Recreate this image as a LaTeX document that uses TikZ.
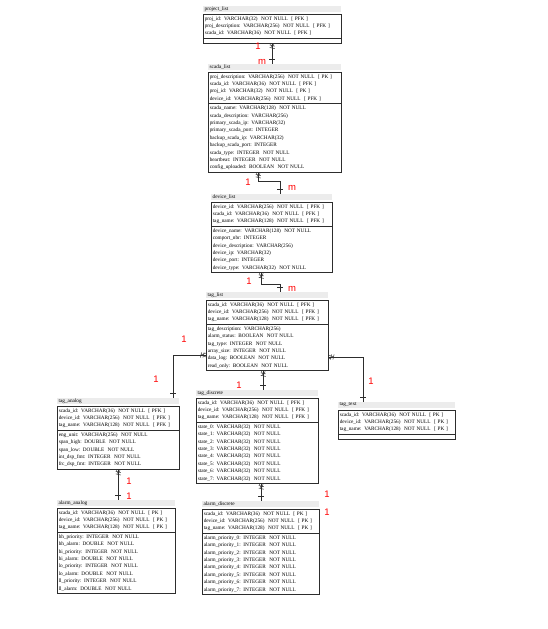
\documentclass[tikz,border=0pt]{standalone}
\usepackage{fontspec}
\setmainfont{Liberation Serif}
\newfontfamily\cardfont{Liberation Sans}
\usepackage{tikz}
\usetikzlibrary{shapes.multipart, positioning, decorations.markings}
\definecolor{mydark}{RGB}{45,45,45}
\definecolor{myred}{RGB}{255,0,0}
\definecolor{hdrgray}{RGB}{236,236,236}
\tikzset{
  entity/.style={rectangle split, rectangle split parts=2, draw=mydark,
    line width=0.5pt, inner xsep=1.5pt, inner ysep=2pt, align=left,
    anchor=north west, font=\fontsize{5.25}{7.4}\selectfont},
  entitytitle/.style={rectangle, fill=hdrgray, inner xsep=1.5pt,
    inner ysep=0.5pt, minimum height=6.5pt, align=left,
    font=\fontsize{5.25}{6}\selectfont},
  card/.style={text=myred, inner sep=0pt,
    font=\cardfont\fontsize{9.5}{9.5}\selectfont},
  rel/.style={draw=mydark, line width=0.6pt, postaction={decorate},
    decoration={markings,
      mark=at position 2.5pt with {\draw[line width=0.5pt] (-0.6pt,-2.5pt) -- (0.6pt,2.5pt);},
      mark=at position 5pt with {\draw[line width=0.5pt] (-0.6pt,-2.5pt) -- (0.6pt,2.5pt);
        \draw[line width=0.4pt] (0,0) -- (-5pt,2pt) (0,0) -- (-5pt,-2pt);},
      mark=at position -4pt with {\draw[line width=0.5pt] (0,-3pt) -- (0,3pt);}}}
}
\begin{document}
\begin{tikzpicture}[x=1pt, y=-1pt]
  \useasboundingbox (0,0) rectangle (547,629);
  % tables
  \node[entity, text width=135pt] (project) at (203,14)
    {proj\_id: VARCHAR(32)~~NOT NULL~~[~PFK~]\\
     proj\_description: VARCHAR(256)~~NOT NULL~~[~PFK~]\\
     scada\_id: VARCHAR(36)~~NOT NULL~~[~PFK~]
     \nodepart{two}};
  \node[entitytitle, text width=135pt, above right=1.5pt and 0pt of project.north west] (project_t) {project\_list};

  \node[entity, text width=130pt] (scada) at (208,72)
    {proj\_description: VARCHAR(256)~~NOT NULL~~[~PK~]\\
     scada\_id: VARCHAR(36)~~NOT NULL~~[~PFK~]\\
     proj\_id: VARCHAR(32)~~NOT NULL~~[~PK~]\\
     device\_id: VARCHAR(256)~~NOT NULL~~[~PFK~]
     \nodepart{two}
     scada\_name: VARCHAR(128)~~NOT NULL\\
     scada\_description: VARCHAR(256)\\
     primary\_scada\_ip: VARCHAR(32)\\
     primary\_scada\_port: INTEGER\\
     backup\_scada\_ip: VARCHAR(32)\\
     backup\_scada\_port: INTEGER\\
     scada\_type: INTEGER~~NOT NULL\\
     heartbeat: INTEGER~~NOT NULL\\
     config\_uploaded: BOOLEAN~~NOT NULL};
  \node[entitytitle, text width=130pt, above right=1.5pt and 0pt of scada.north west] (scada_t) {scada\_list};

  \node[entity, text width=118pt] (device) at (211,202)
    {device\_id: VARCHAR(256)~~NOT NULL~~[~PFK~]\\
     scada\_id: VARCHAR(36)~~NOT NULL~~[~PFK~]\\
     tag\_name: VARCHAR(128)~~NOT NULL~~[~PFK~]
     \nodepart{two}
     device\_name: VARCHAR(128)~~NOT NULL\\
     comport\_nbr: INTEGER\\
     device\_description: VARCHAR(256)\\
     device\_ip: VARCHAR(32)\\
     device\_port: INTEGER\\
     device\_type: VARCHAR(32)~~NOT NULL};
  \node[entitytitle, text width=118pt, above right=1.5pt and 0pt of device.north west] (device_t) {device\_list};

  \node[entity, text width=119pt] (tag) at (206,300)
    {scada\_id: VARCHAR(36)~~NOT NULL~~[~PFK~]\\
     device\_id: VARCHAR(256)~~NOT NULL~~[~PFK~]\\
     tag\_name: VARCHAR(128)~~NOT NULL~~[~PFK~]
     \nodepart{two}
     tag\_description: VARCHAR(256)\\
     alarm\_status: BOOLEAN~~NOT NULL\\
     tag\_type: INTEGER~~NOT NULL\\
     array\_size: INTEGER~~NOT NULL\\
     data\_log: BOOLEAN~~NOT NULL\\
     read\_only: BOOLEAN~~NOT NULL};
  \node[entitytitle, text width=119pt, above right=1.5pt and 0pt of tag.north west] (tag_t) {tag\_list};

  \node[entity, text width=119pt] (analog) at (57,406)
    {scada\_id: VARCHAR(36)~~NOT NULL~~[~PFK~]\\
     device\_id: VARCHAR(256)~~NOT NULL~~[~PFK~]\\
     tag\_name: VARCHAR(128)~~NOT NULL~~[~PFK~]
     \nodepart{two}
     eng\_unit: VARCHAR(256)~~NOT NULL\\
     span\_high: DOUBLE~~NOT NULL\\
     span\_low: DOUBLE~~NOT NULL\\
     int\_dsp\_fmt: INTEGER~~NOT NULL\\
     frc\_dsp\_fmt: INTEGER~~NOT NULL};
  \node[entitytitle, text width=119pt, above right=1.5pt and 0pt of analog.north west] (analog_t) {tag\_analog};

  \node[entity, text width=119pt] (discrete) at (196,398)
    {scada\_id: VARCHAR(36)~~NOT NULL~~[~PFK~]\\
     device\_id: VARCHAR(256)~~NOT NULL~~[~PFK~]\\
     tag\_name: VARCHAR(128)~~NOT NULL~~[~PFK~]
     \nodepart{two}
     state\_0: VARCHAR(32)~~NOT NULL\\
     state\_1: VARCHAR(32)~~NOT NULL\\
     state\_2: VARCHAR(32)~~NOT NULL\\
     state\_3: VARCHAR(32)~~NOT NULL\\
     state\_4: VARCHAR(32)~~NOT NULL\\
     state\_5: VARCHAR(32)~~NOT NULL\\
     state\_6: VARCHAR(32)~~NOT NULL\\
     state\_7: VARCHAR(32)~~NOT NULL};
  \node[entitytitle, text width=119pt, above right=1.5pt and 0pt of discrete.north west] (discrete_t) {tag\_discrete};

  \node[entity, text width=114pt] (tagtext) at (338,410)
    {scada\_id: VARCHAR(36)~~NOT NULL~~[~PK~]\\
     device\_id: VARCHAR(256)~~NOT NULL~~[~PK~]\\
     tag\_name: VARCHAR(128)~~NOT NULL~~[~PK~]
     \nodepart{two}};
  \node[entitytitle, text width=114pt, above right=1.5pt and 0pt of tagtext.north west] (tagtext_t) {tag\_text};

  \node[entity, text width=115pt] (alarmana) at (57,508)
    {scada\_id: VARCHAR(36)~~NOT NULL~~[~PK~]\\
     device\_id: VARCHAR(256)~~NOT NULL~~[~PK~]\\
     tag\_name: VARCHAR(128)~~NOT NULL~~[~PK~]
     \nodepart{two}
     hh\_priority: INTEGER~~NOT NULL\\
     hh\_alarm: DOUBLE~~NOT NULL\\
     hi\_priority: INTEGER~~NOT NULL\\
     hi\_alarm: DOUBLE~~NOT NULL\\
     lo\_priority: INTEGER~~NOT NULL\\
     lo\_alarm: DOUBLE~~NOT NULL\\
     ll\_priority: INTEGER~~NOT NULL\\
     ll\_alarm: DOUBLE~~NOT NULL};
  \node[entitytitle, text width=115pt, above right=1.5pt and 0pt of alarmana.north west] (alarmana_t) {alarm\_analog};

  \node[entity, text width=114pt] (alarmdis) at (202,509)
    {scada\_id: VARCHAR(36)~~NOT NULL~~[~PK~]\\
     device\_id: VARCHAR(256)~~NOT NULL~~[~PK~]\\
     tag\_name: VARCHAR(128)~~NOT NULL~~[~PK~]
     \nodepart{two}
     alarm\_priority\_0: INTEGER~~NOT NULL\\
     alarm\_priority\_1: INTEGER~~NOT NULL\\
     alarm\_priority\_2: INTEGER~~NOT NULL\\
     alarm\_priority\_3: INTEGER~~NOT NULL\\
     alarm\_priority\_4: INTEGER~~NOT NULL\\
     alarm\_priority\_5: INTEGER~~NOT NULL\\
     alarm\_priority\_6: INTEGER~~NOT NULL\\
     alarm\_priority\_7: INTEGER~~NOT NULL};
  \node[entitytitle, text width=114pt, above right=1.5pt and 0pt of alarmdis.north west] (alarmdis_t) {alarm\_discrete};

  % relations
  \draw[rel] (project.south) -- (project.south |- scada_t.north);
  \draw[rel] ([xshift=-16.5pt]scada.south) -- ++(0,9) -| ([xshift=8.5pt]device_t.north);
  \draw[rel] ([xshift=-10.5pt]device.south) -- ++(0,11) -| ([xshift=13pt]tag_t.north);
  \draw[rel] ([yshift=-55pt]tag.north west) -| ([xshift=55pt]analog_t.north);
  \draw[rel] ([yshift=-57pt]tag.north east) -| ([xshift=-33.5pt]tagtext_t.north);
  \draw[rel] ([xshift=-4pt]tag.south) -- ([xshift=-4pt]tag.south |- discrete_t.north);
  \draw[rel] (analog.south) -- (analog.south |- alarmana_t.north);
  \draw[rel] ([xshift=4pt]discrete.south) -- ([xshift=4pt]discrete.south |- alarmdis_t.north);

  % cardinalities
  \node[card] (c1) at (258,46) {1};
  \node[card] (c2) at (262,62) {m};
  \node[card] (c3) at (248,182) {1};
  \node[card] (c4) at (292,188) {m};
  \node[card] (c5) at (249,281) {1};
  \node[card] (c6) at (292,289) {m};
  \node[card] (c7) at (184,339) {1};
  \node[card] (c8) at (156,379) {1};
  \node[card] (c9) at (239,385) {1};
  \node[card] (c10) at (371,381) {1};
  \node[card] (c11) at (129,481) {1};
  \node[card] (c12) at (129,496) {1};
  \node[card] (c13) at (327,494) {1};
  \node[card] (c14) at (327,512) {1};
\end{tikzpicture}
\end{document}
